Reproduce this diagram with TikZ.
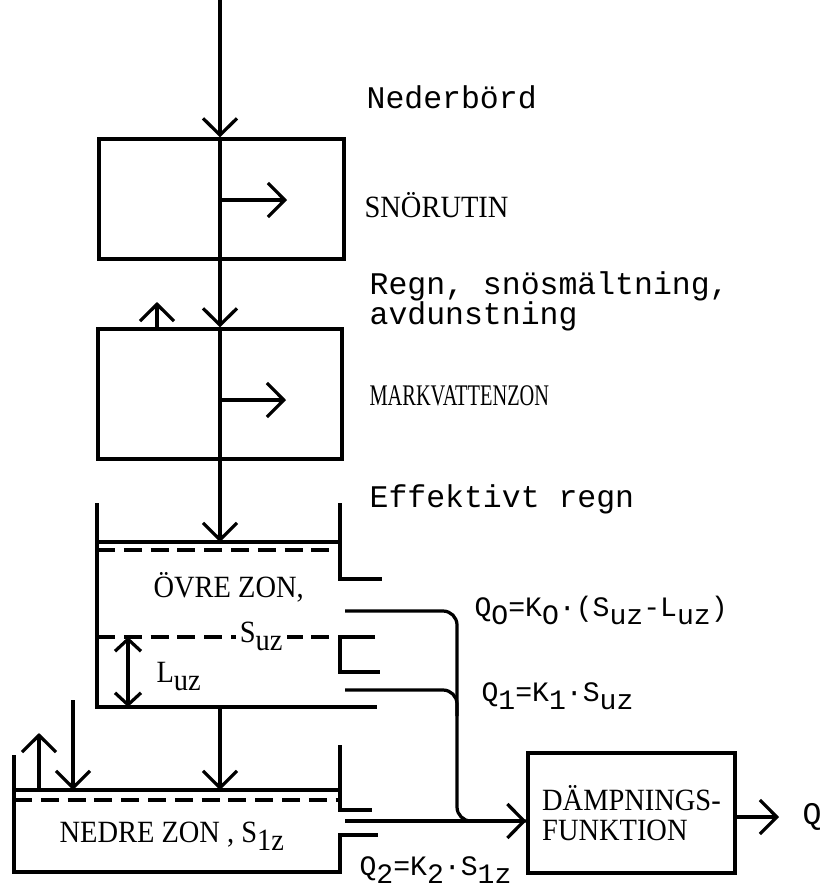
\documentclass[tikz,border=0pt]{standalone}
\usepackage{fontspec}
\setmainfont{Liberation Serif}
\newfontfamily\twfont{Liberation Mono}
\newfontfamily\zonfont{Liberation Serif}[FakeStretch=0.92]
\newfontfamily\zonnarrow{Liberation Serif}[FakeStretch=0.68]
\usetikzlibrary{arrows.meta,positioning}
\newcommand{\lo}[1]{\raisebox{-0.6ex}{#1}}

\begin{document}
\begin{tikzpicture}[line width=2.3pt,
  >={Straight Barb[length=0.42cm,width=0.85cm]},
  tw/.style={font=\twfont\fontsize{22.4}{26}\selectfont,anchor=base west,inner sep=0pt},
  fq/.style={font=\twfont\fontsize{20}{24}\selectfont,anchor=base west,inner sep=0pt},
  zon/.style={font=\zonfont\fontsize{22}{22}\selectfont,anchor=base west,inner sep=0pt},
  level/.style={dash pattern=on 0.45cm off 0.22cm}]
\useasboundingbox (0,0) rectangle (20.55,-22.3);

% boxes
\node[draw,minimum width=6.125cm,minimum height=3cm] (snow) at (5.5375,-4.975) {};
\node[draw,minimum width=6.1cm,minimum height=3.25cm] (soil) at (5.5,-9.85) {};
\node[draw,minimum width=5.175cm,minimum height=3cm,align=left,
  font=\zonfont\fontsize{22}{21.3}\selectfont] (damp) at (15.7875,-20.325) {DÄMPNINGS-\\FUNKTION};

\coordinate (top) at (5.5,0);
\coordinate (melt) at (7.175,-5.0);
\coordinate (wet) at (7.15,-10.0);
\coordinate (evap) at (3.925,-7.55);
\coordinate (upz) at (5.5,-13.55);

\draw[->] (top) -- (top |- snow.north);
\draw[->] (top |- snow.north) -- (top |- soil.north);
\draw[->] (top |- soil.north) -- (upz);
\draw[->] (top |- melt) -- (melt);
\draw[->] (top |- wet) -- (wet);
\draw[->] (soil.north -| evap) -- (evap);

% upper zone
\draw (2.425,-12.575) -- (2.425,-17.675) -- (9.425,-17.675);
\draw (8.5,-12.575) -- (8.5,-14.475) -- (9.55,-14.475);
\draw (2.425,-13.55) -- (8.5,-13.55);
\draw[level] (2.425,-13.75) -- (8.5,-13.75);
\draw[level] (2.425,-15.925) -- (8.5,-15.925);
\draw (9.375,-15.925) -- (8.5,-15.925) -- (8.5,-16.8) -- (9.5,-16.8);
\draw[<->,>={Straight Barb[length=0.3cm,width=0.65cm]}] (3.2,-15.925) -- (3.2,-17.675);

% lower zone
\draw (0.35,-18.875) -- (0.35,-21.8) -- (8.5,-21.8) -- (8.5,-20.875) -- (9.45,-20.875);
\draw (8.5,-18.625) -- (8.5,-20.25) -- (9.3,-20.25);
\draw (0.35,-19.75) -- (8.5,-19.75);
\draw[level] (0.35,-20.0) -- (8.5,-20.0);
\draw[->] (0.975,-19.75) -- (0.975,-18.325);
\draw[->] (1.825,-17.5) -- (1.825,-19.75);
\draw[->] (5.5,-17.675) -- (5.5,-19.75);

% outflows
\coordinate (q0) at (8.625,-15.275);
\coordinate (q1) at (8.625,-17.25);
\coordinate (q2) at (8.625,-20.525);
\coordinate (mrg) at (11.425,-20.525);
\coordinate (join) at (11.425,-17.9);
\draw[rounded corners=0.35cm] (q0) -| (mrg) -- (damp.west |- mrg);
\draw[rounded corners=0.35cm] (q1) -| (join);
\draw[->] (q2) -- (damp.west |- q2);

\coordinate (qout) at (19.475,-20.425);
\draw[->] (damp.east |- qout) -- (qout);

% labels
\node[tw] (ned) at (9.125,-2.7) {Nederbörd};
\node[zon] (snor) at (9.075,-5.425) {SNÖRUTIN};
\node[tw] (regn) at (9.2,-7.35) {Regn, snösmältning,};
\node[tw] (avd) at (9.2,-8.1) {avdunstning};
\node[zon,font=\zonnarrow\fontsize{21.3}{21.3}\selectfont] (mark) at (9.2,-10.125) {MARKVATTENZON};
\node[tw] (eff) at (9.2,-12.675) {Effektivt regn};
\node[zon] (ovre) at (3.8,-14.925) {ÖVRE ZON,};
\node[zon,fill=white,inner xsep=3pt] (suz) at (5.85,-16.05) {S\lo{uz}};
\node[zon] (luz) at (3.875,-17.05) {L\lo{uz}};
\node[fq] (f0) at (11.825,-15.4) {Q\lo{O}=K\lo{O}·(S\lo{uz}-L\lo{uz})};
\node[fq] (f1) at (12.0,-17.525) {Q\lo{1}=K\lo{1}·S\lo{uz}};
\node[fq] (f2) at (8.95,-21.875) {Q\lo{2}=K\lo{2}·S\lo{1z}};
\node[zon] (nedre) at (1.45,-21.05) {NEDRE ZON , S\lo{1z}};
\node[tw,anchor=center] (q) at (20.3,-20.425) {Q};
\end{tikzpicture}
\end{document}
